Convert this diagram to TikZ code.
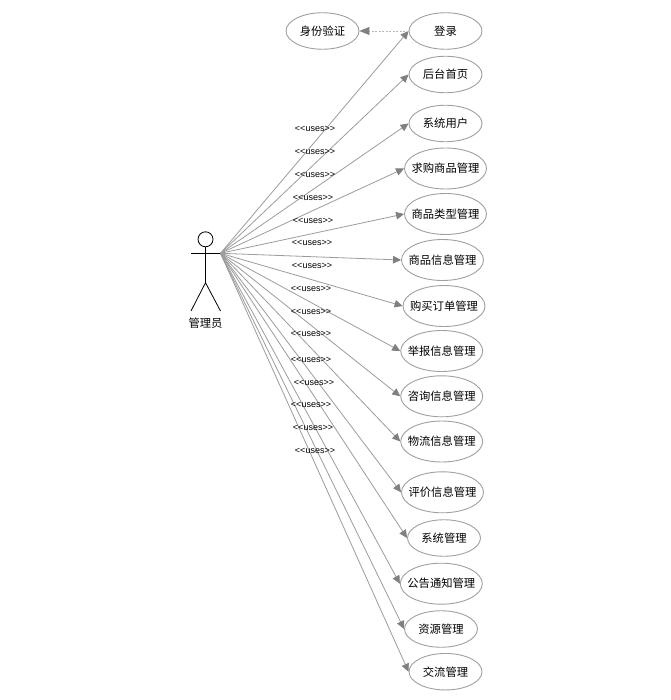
\documentclass[tikz,border=0pt]{standalone}
\usepackage{fontspec}
\setmainfont{Liberation Sans}
\newfontfamily\cjkfont{Noto Sans CJK SC}
\usetikzlibrary{shapes.geometric,arrows.meta}
\definecolor{edgegray}{HTML}{9C9C9C}
\definecolor{tipgray}{HTML}{808080}
\definecolor{ringgray}{HTML}{A0A0A0}
\definecolor{dashgray}{HTML}{B8B8B8}
\tikzset{
  x=1pt,y=-1pt,
  usecase/.style={draw=ringgray,line width=0.9pt,ellipse,inner ysep=0pt,inner xsep=-14pt,font=\cjkfont\fontsize{11.3}{13}\selectfont,text=black},
  uc36/.style={usecase,minimum width=73pt,minimum height=36.5pt},
  uc41/.style={usecase,minimum width=82pt,minimum height=41pt},
  uselabel/.style={inner sep=0pt,font=\fontsize{9}{10}\selectfont,text=black},
  conn/.style={draw=edgegray,line width=0.8pt,-{Triangle[length=8pt,width=7.5pt,color=tipgray]}},
  dep/.style={draw=dashgray,line width=0.7pt,dash pattern=on 2pt off 1.5pt,-{Triangle[length=10pt,width=8pt,color=tipgray]}},
  stick/.style={draw=black,line width=0.8pt}
}
\begin{document}
\begin{tikzpicture}
\useasboundingbox (0,0) rectangle (670,700);
\fill[white] (0,0) rectangle (670,700);
% use cases
\node[uc36] (auth) at (322.5,31) {身份验证};
\node[uc36] (login) at (445.5,31) {登录};
\node[uc36] (home) at (445.5,74.5) {后台首页};
\node[uc36] (users) at (445.5,123.5) {系统用户};
\node[uc41] (buy) at (445.5,168.5) {求购商品管理};
\node[uc41] (kind) at (445.5,214) {商品类型管理};
\node[uc41] (info) at (442.5,260) {商品信息管理};
\node[uc41] (order) at (444,306) {购买订单管理};
\node[uc41] (report) at (441.7,351) {举报信息管理};
\node[uc41] (ask) at (441.7,396.3) {咨询信息管理};
\node[uc41] (ship) at (441.7,441.5) {物流信息管理};
\node[uc41] (review) at (442.5,492.3) {评价信息管理};
\node[uc36] (sys) at (444,538) {系统管理};
\node[uc41] (notice) at (441.3,583.7) {公告通知管理};
\node[uc36] (res) at (441,629) {资源管理};
\node[uc36] (chat) at (445.5,671.7) {交流管理};
% actor
\node[stick,circle,minimum size=15pt,inner sep=0pt] (head) at (205.5,239.3) {};
\coordinate (lhand) at (191,253.3);
\coordinate (hand) at (220.5,253.3);
\coordinate (hip) at (205.5,282.7);
\coordinate (lfoot) at (191,311);
\coordinate (rfoot) at (220.5,311);
\draw[stick] (head.south) -- (hip);
\draw[stick] (lhand) -- (hand);
\draw[stick] (lfoot) -- (hip) -- (rfoot);
\node[inner sep=0pt,font=\cjkfont\fontsize{11.3}{13}\selectfont] (actorname) at (205.5,323) {管理员};
% connectors
\foreach \t in {login,home,users,buy,kind,info,order,report,ask,ship,review,sys,notice,res,chat}
  \draw[conn] (hand) -- (\t.west);
\draw[dep] (login.west) -- (auth.east);
% labels
\node[uselabel] (u1) at (315,129.3) {<{}<uses>{}>};
\node[uselabel] (u2) at (315,151.7) {<{}<uses>{}>};
\node[uselabel] (u3) at (315,175.3) {<{}<uses>{}>};
\node[uselabel] (u4) at (313,198.3) {<{}<uses>{}>};
\node[uselabel] (u5) at (313,221) {<{}<uses>{}>};
\node[uselabel] (u6) at (312,243.3) {<{}<uses>{}>};
\node[uselabel] (u7) at (312,266.3) {<{}<uses>{}>};
\node[uselabel] (u8) at (311,289.3) {<{}<uses>{}>};
\node[uselabel] (u9) at (311,312) {<{}<uses>{}>};
\node[uselabel] (u10) at (311,334.3) {<{}<uses>{}>};
\node[uselabel] (u11) at (311,360.3) {<{}<uses>{}>};
\node[uselabel] (u12) at (314,383.3) {<{}<uses>{}>};
\node[uselabel] (u13) at (311,405.3) {<{}<uses>{}>};
\node[uselabel] (u14) at (313,428.3) {<{}<uses>{}>};
\node[uselabel] (u15) at (315,450.7) {<{}<uses>{}>};
\end{tikzpicture}
\end{document}
